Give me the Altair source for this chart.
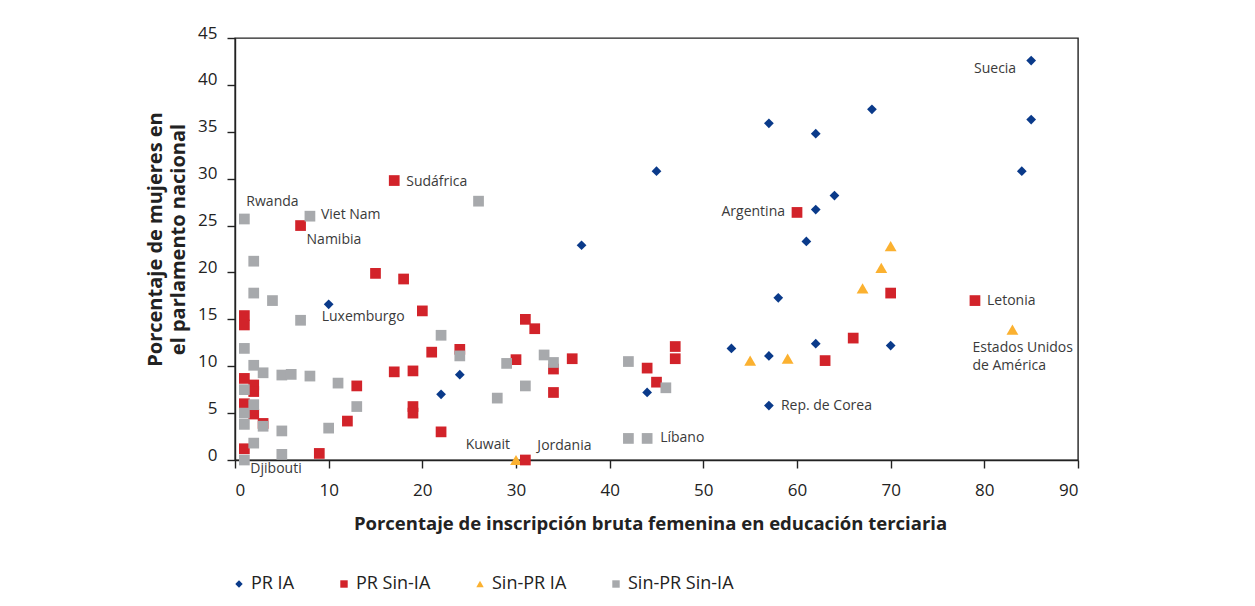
import altair as alt
import pandas as pd

# ---------------- data ----------------
series_names = ["PR IA", "PR Sin-IA", "Sin-PR IA", "Sin-PR Sin-IA"]

# PR IA (blue diamonds)
pria_x = [10, 24, 22, 37, 45, 44, 85, 85, 84, 68, 57, 62, 64, 62, 61, 58, 53, 57, 62, 70, 57]
pria_y = [16.6, 9.1, 7.0, 22.9, 30.8, 7.2, 42.6, 36.3, 30.8, 37.4, 35.9, 34.8, 28.2, 26.7,
          23.3, 17.3, 11.9, 11.1, 12.4, 12.2, 5.8]
pria_n = ["Luxemburgo", "", "", "", "", "", "Suecia", "", "", "", "", "", "", "", "", "", "",
          "", "", "", "Rep. de Corea"]

# PR Sin-IA (red squares)
prs_x = [7, 1, 1, 1, 2, 2, 1, 2, 3, 1, 9, 12, 13, 17, 15, 18, 20, 21, 24, 17, 19, 19, 19, 22,
         31, 32, 30, 34, 36, 34, 31, 44, 45, 47, 47, 60, 70, 79, 66, 63]
prs_y = [25.0, 15.4, 14.4, 8.7, 8.0, 7.3, 6.0, 4.9, 3.9, 1.2, 0.7, 4.15, 7.9, 29.8, 19.9, 19.3,
         15.9, 11.5, 11.8, 9.4, 9.5, 5.7, 5.0, 3.0, 15.0, 14.0, 10.7, 9.7, 10.8, 7.2, 0.0, 9.8,
         8.3, 12.1, 10.8, 26.4, 17.8, 17.0, 13.0, 10.6]
prs_n = ["Namibia"] + [""] * 12 + ["Sudáfrica"] + [""] * 16 + ["Jordania"] + [""] * 4 + \
        ["Argentina", "", "Letonia", "", ""]

# Sin-PR IA (yellow triangles)
spi_x = [30, 55, 59, 67, 69, 70, 83]
spi_y = [0.0, 10.6, 10.8, 18.3, 20.5, 22.8, 13.9]
spi_n = ["Kuwait", "", "", "", "", "", "Estados Unidos\nde América"]

# Sin-PR Sin-IA (grey squares)
sps_x = [1, 8, 2, 2, 4, 7, 1, 2, 3, 5, 6, 8, 11, 1, 2, 1, 1, 3, 5, 10, 13, 2, 1, 5, 22, 24,
         26, 29, 33, 34, 31, 28, 42, 46, 42, 44]
sps_y = [25.7, 26.0, 21.2, 17.8, 17.0, 14.9, 11.9, 10.1, 9.3, 9.06, 9.13, 8.95, 8.2, 7.5, 5.9,
         5.0, 3.8, 3.6, 3.1, 3.4, 5.7, 1.8, 0.0, 0.6, 13.3, 11.1, 27.6, 10.3, 11.2, 10.4, 7.9,
         6.6, 10.5, 7.7, 2.3, 2.3]
sps_n = ["Rwanda", "Viet Nam"] + [""] * 20 + ["Djibouti"] + [""] * 12 + ["Líbano"]

x_ticks = [0, 10, 20, 30, 40, 50, 60, 70, 80, 90]
y_ticks = [0, 5, 10, 15, 20, 25, 30, 35, 40, 45]

# ---------------- styles ----------------
colors = ["#0A3A8A", "#D2232A", "#FBB130", "#A7A9AC"]
shapes = ["diamond", "square", "triangle-up", "square"]
sizes = {"PR IA": 95, "PR Sin-IA": 115, "Sin-PR IA": 140, "Sin-PR Sin-IA": 115}
zorder = {"Sin-PR IA": 0, "PR IA": 1, "PR Sin-IA": 2, "Sin-PR Sin-IA": 3}

label_style = {
    "Suecia": ("right", -15, 8, "middle"),
    "Argentina": ("right", -12, 0, "middle"),
    "Letonia": ("left", 12, 0, "middle"),
    "Estados Unidos\nde América": ("left", -40, 22, "alphabetic"),
    "Rep. de Corea": ("left", 12, 0, "middle"),
    "Líbano": ("left", 13, 0, "middle"),
    "Jordania": ("left", 12, -14, "middle"),
    "Kuwait": ("right", -6, -15, "middle"),
    "Djibouti": ("left", 6, 9, "middle"),
    "Luxemburgo": ("left", -7, 13, "middle"),
    "Namibia": ("left", 6, 14, "middle"),
    "Viet Nam": ("left", 11, -1, "middle"),
    "Rwanda": ("left", 2, -17, "middle"),
    "Sudáfrica": ("left", 12, 1, "middle"),
}

rows = []
for s, xs, ys, ns in [("PR IA", pria_x, pria_y, pria_n),
                      ("PR Sin-IA", prs_x, prs_y, prs_n),
                      ("Sin-PR IA", spi_x, spi_y, spi_n),
                      ("Sin-PR Sin-IA", sps_x, sps_y, sps_n)]:
    for x, y, n in zip(xs, ys, ns):
        rows.append({"serie": s, "x": x, "y": y, "pais": n, "sz": sizes[s], "z": zorder[s]})
df = pd.DataFrame(rows)

FONT = "Open Sans"
x_scale = alt.Scale(domain=[0, 90], nice=False, zero=False)
y_scale = alt.Scale(domain=[0, 45], nice=False, zero=False)

points = alt.Chart(df).mark_point(filled=True, opacity=1, strokeWidth=0).encode(
    x=alt.X("x:Q", scale=x_scale,
            axis=alt.Axis(values=x_ticks, title="Porcentaje de inscripción bruta femenina en educación terciaria",
                          titleX=415, titleY=63, titleBaseline="middle", titleAlign="center",
                          titleFontSize=18.5, labelPadding=14, labelFontSize=17)),
    y=alt.Y("y:Q", scale=y_scale,
            axis=alt.Axis(values=y_ticks, title=["Porcentaje de mujeres en", "el parlamento nacional"],
                          titleX=-80, titleY=201, titleAngle=270, titleBaseline="middle",
                          titleAlign="center", titleLineHeight=23, titleFontSize=20,
                          labelPadding=10, labelOffset=-5, labelFontSize=17)),
    color=alt.Color("serie:N", scale=alt.Scale(domain=series_names, range=colors),
                    legend=alt.Legend(title=None, orient="none", legendX=-5, legendY=537,
                                      direction="horizontal", columns=4, columnPadding=40,
                                      labelFont=FONT, labelFontSize=18, labelColor="#222222",
                                      symbolSize=55, labelOffset=3, padding=0)),
    shape=alt.Shape("serie:N", scale=alt.Scale(domain=series_names, range=shapes)),
    size=alt.Size("sz:Q", scale=None, legend=None),
    order=alt.Order("z:Q"),
)

layers = [points]
for name, (al, dx, dy, bl) in label_style.items():
    t = alt.Chart(df).transform_filter(alt.datum.pais == name).mark_text(
        align=al, dx=dx, dy=dy, baseline=bl, font=FONT, fontSize=14, color="#3A3A3A",
        lineBreak="\n", lineHeight=18,
    ).encode(x=alt.X("x:Q", scale=x_scale), y=alt.Y("y:Q", scale=y_scale), text="pais:N")
    layers.append(t)

chart = alt.layer(*layers).properties(
    width=843, height=422,
    autosize=alt.AutoSizeParams(type="none"),
    padding={"left": 227, "top": 30, "right": 160, "bottom": 134},
).configure_view(
    stroke="#222222", strokeWidth=1.4
).configure_axis(
    grid=False, domainColor="#222222", domainWidth=1.4, tickColor="#222222", tickWidth=1.4,
    tickSize=8, labelFont=FONT, labelColor="#222222", titleFont=FONT,
    titleFontWeight="bold", titleColor="#222222",
)

chart.save("out.html", embed_options={"renderer": "svg", "actions": False})
